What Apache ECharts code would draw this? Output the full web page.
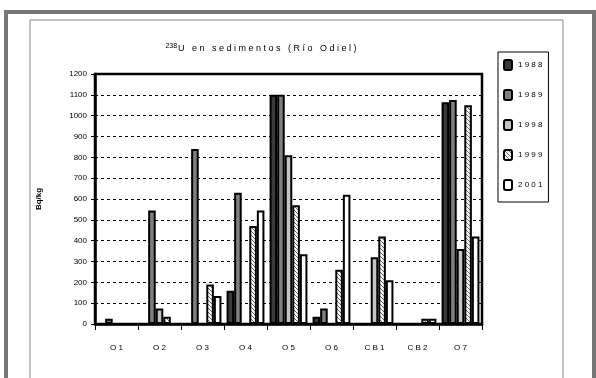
<!DOCTYPE html>
<html>
<head>
<meta charset="utf-8">
<script src="https://cdn.jsdelivr.net/npm/echarts@6/dist/echarts.min.js"></script>
<style>
  html, body { margin: 0; padding: 0; background: #fff; }
  #chart { width: 596px; height: 378px; }
</style>
</head>
<body>
<div id="chart"></div>
<script>
// sample sites
const categories = ['O1', 'O2', 'O3', 'O4', 'O5', 'O6', 'CB1', 'CB2', 'O7'];
const years = ['1988', '1989', '1998', '1999', '2001'];
// activity in Bq/kg, null = not measured
const v1988 = [null, null, null, 160, 1100, 35, null, null, 1065];
const v1989 = [25, 545, 840, 630, 1100, 75, null, null, 1075];
const v1998 = [null, 75, null, null, 810, null, 320, null, 360];
const v1999 = [null, 35, 190, 470, 570, 260, 420, 25, 1050];
const v2001 = [null, null, 135, 545, 335, 620, 210, 25, 420];
const yTicks = [0, 100, 200, 300, 400, 500, 600, 700, 800, 900, 1000, 1100, 1200];

const spaced = s => s.split('').join(' ');

// hatch for 1999
function hatch() {
  const c = document.createElement('canvas');
  c.width = 4; c.height = 4;
  const ctx = c.getContext('2d');
  ctx.fillStyle = '#fff';
  ctx.fillRect(0, 0, 4, 4);
  ctx.strokeStyle = '#666';
  ctx.lineWidth = 1;
  ctx.beginPath();
  ctx.moveTo(0, 0); ctx.lineTo(4, 4);
  ctx.moveTo(-1, 3); ctx.lineTo(1, 5);
  ctx.moveTo(3, -1); ctx.lineTo(5, 1);
  ctx.stroke();
  return c;
}

const fills = ['#3a3a3a', '#808080', '#c4c4c4', { image: hatch(), repeat: 'repeat' }, '#ffffff'];
const seriesData = [v1988, v1989, v1998, v1999, v2001];

const chart = echarts.init(document.getElementById('chart'), null, { renderer: 'canvas' });

const option = {
  backgroundColor: '#fff',
  animation: false,
  textStyle: { fontFamily: 'Liberation Sans, Arial, sans-serif' },
  graphic: [
    { type: 'rect', shape: { x: 6, y: 12, width: 588, height: 380 },
      style: { fill: 'none', stroke: '#777', lineWidth: 4 } },
    { type: 'rect', shape: { x: 30, y: 20, width: 533, height: 380 },
      style: { fill: 'none', stroke: '#888', lineWidth: 1 } }
  ],
  title: {
    text: '{sup|238}{t|' + spaced('U en sedimentos (Río Odiel)') + '}',
    left: 256,
    top: 38,
    textAlign: 'center',
    textStyle: {
      fontWeight: 'normal',
      rich: {
        sup: { fontSize: 7, color: '#000', fontWeight: 'normal', verticalAlign: 'top', padding: [0, 1, 5, 0] },
        t: { fontSize: 9, color: '#000', fontWeight: 'normal' }
      }
    }
  },
  legend: {
    orient: 'vertical',
    left: 498,
    top: 52,
    padding: [7, 6, 11, 5],
    itemGap: 18,
    itemWidth: 8,
    itemHeight: 10,
    borderColor: '#000',
    borderWidth: 1,
    data: years,
    formatter: name => spaced(name),
    textStyle: { fontSize: 8, color: '#000', padding: [0, 0, 0, 1] }
  },
  grid: {
    left: 95, top: 74, right: 114, bottom: 54,
    show: true,
    borderColor: '#000',
    borderWidth: 2.5,
    backgroundColor: 'transparent'
  },
  xAxis: {
    type: 'category',
    data: categories,
    axisLine: { lineStyle: { color: '#000', width: 2.5 } },
    axisTick: { show: true, length: 6, lineStyle: { color: '#000', width: 1 } },
    axisLabel: {
      margin: 20, fontSize: 8, color: '#000',
      formatter: v => spaced(v)
    }
  },
  yAxis: {
    type: 'value',
    min: yTicks[0],
    max: yTicks[yTicks.length - 1],
    interval: 100,
    name: 'Bq/kg',
    nameLocation: 'middle',
    nameRotate: 90,
    nameGap: 52,
    nameTextStyle: { fontSize: 8, fontWeight: 'bold', color: '#000' },
    axisLine: { show: true, lineStyle: { color: '#000', width: 2.5 } },
    axisTick: { show: true, length: 4, lineStyle: { color: '#000' } },
    axisLabel: { fontSize: 8, color: '#000', margin: 8, formatter: v => String(v) },
    splitLine: { lineStyle: { color: '#000', type: [3, 3], width: 1 } }
  },
  series: years.map((y, i) => ({
    name: y,
    type: 'bar',
    data: seriesData[i],
    barGap: '0%',
    barCategoryGap: '12%',
    itemStyle: { color: fills[i], borderColor: '#000', borderWidth: 2 }
  }))
};

chart.setOption(option);
</script>
</body>
</html>
